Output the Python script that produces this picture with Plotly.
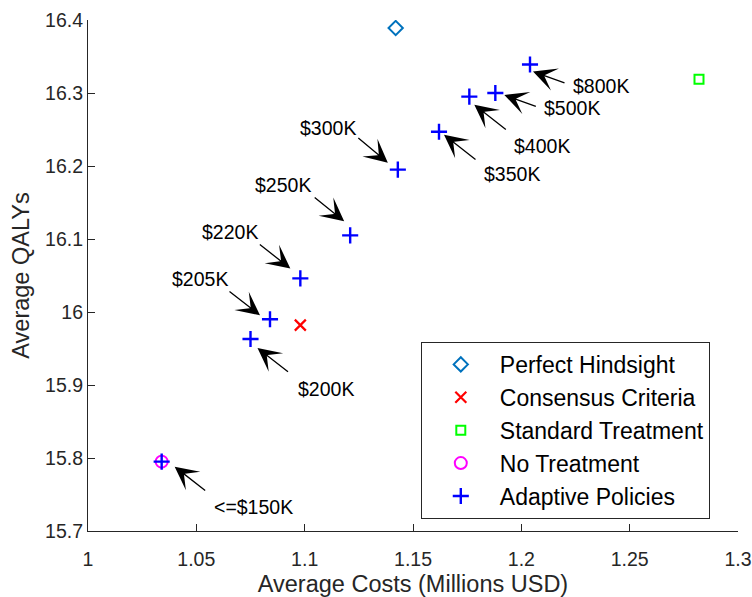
import plotly.graph_objects as go

# Average cost (millions USD) and average QALYs for each strategy
hindsight_cost = [1.142]
hindsight_qaly = [16.389]
consensus_cost = [1.098]
consensus_qaly = [15.982]
standard_cost = [1.282]
standard_qaly = [16.319]
no_treat_cost = [1.034]
no_treat_qaly = [15.795]

# Adaptive policies, one per willingness-to-pay threshold
wtp_labels = ["<=$150K", "$200K", "$205K", "$220K", "$250K",
              "$300K", "$350K", "$400K", "$500K", "$800K"]
adaptive_cost = [1.034, 1.075, 1.084, 1.098, 1.121,
                 1.143, 1.162, 1.176, 1.188, 1.204]
adaptive_qaly = [15.795, 15.963, 15.990, 16.046, 16.105,
                 16.195, 16.247, 16.295, 16.300, 16.339]

x_ticks = [1, 1.05, 1.1, 1.15, 1.2, 1.25, 1.3]
x_tick_labels = ["1", "1.05", "1.1", "1.15", "1.2", "1.25", "1.3"]
y_ticks = [15.7, 15.8, 15.9, 16.0, 16.1, 16.2, 16.3, 16.4]
y_tick_labels = ["15.7", "15.8", "15.9", "16", "16.1", "16.2", "16.3", "16.4"]

# Callout geometry in screen pixels relative to each point:
# (arrow tip dx, dy), (arrow tail dx, dy), (text centre dx, dy); +dy is downward
callouts = {
    "<=$150K": ((13, 5), (45, 30), (92, 45)),
    "$200K": ((7, 9), (39, 34), (75, 50)),
    "$205K": ((-10, -4), (-42, -29), (-70, -40)),
    "$220K": ((-10, -10), (-42, -35), (-70, -46)),
    "$250K": ((-6, -14), (-37, -39), (-67, -50)),
    "$300K": ((-10, -7), (-41, -33), (-70, -42)),
    "$350K": ((5, 3), (38, 29), (73, 42)),
    "$400K": ((5, 8), (38, 34), (73, 49)),
    "$500K": ((9, 2), (42, 14), (77, 15)),
    "$800K": ((3, 7), (36, 19), (71, 21)),
}

FONT = "Liberation Sans, Arial, Helvetica, sans-serif"
AXIS_COLOR = "#262626"

fig = go.Figure()
fig.add_trace(go.Scatter(
    x=hindsight_cost, y=hindsight_qaly, mode="markers", name="Perfect Hindsight",
    marker=dict(symbol="diamond-open", size=11, color="#0072BD",
                line=dict(width=2, color="#0072BD"))))
fig.add_trace(go.Scatter(
    x=consensus_cost, y=consensus_qaly, mode="markers", name="Consensus Criteria",
    marker=dict(symbol="x-thin-open", size=11, color="#FF0000",
                line=dict(width=2.2, color="#FF0000"))))
fig.add_trace(go.Scatter(
    x=standard_cost, y=standard_qaly, mode="markers", name="Standard Treatment",
    marker=dict(symbol="square-open", size=9, color="#00FF00",
                line=dict(width=2, color="#00FF00"))))
fig.add_trace(go.Scatter(
    x=no_treat_cost, y=no_treat_qaly, mode="markers", name="No Treatment",
    marker=dict(symbol="circle-open", size=12, color="#FF00FF",
                line=dict(width=2, color="#FF00FF"))))
fig.add_trace(go.Scatter(
    x=adaptive_cost, y=adaptive_qaly, mode="markers", name="Adaptive Policies",
    marker=dict(symbol="cross-thin-open", size=11.5, color="#0000FF",
                line=dict(width=2.4, color="#0000FF"))))

annotations = []
for label, cx, cy in zip(wtp_labels, adaptive_cost, adaptive_qaly):
    (tx, ty), (lx, ly), (sx, sy) = callouts[label]
    annotations.append(dict(
        x=cx, y=cy, xref="x", yref="y", text="", showarrow=True,
        xshift=tx, yshift=-ty, ax=lx - tx, ay=ly - ty,
        arrowhead=3, arrowsize=3.0, arrowwidth=1.3, arrowcolor="#000000"))
    annotations.append(dict(
        x=cx, y=cy, xref="x", yref="y", text=label, showarrow=False,
        xshift=sx, yshift=-sy, xanchor="center", yanchor="middle",
        font=dict(family=FONT, size=19.5, color="#000000")))

axis_common = dict(
    showline=True, linecolor=AXIS_COLOR, linewidth=1.2, mirror=False,
    ticks="inside", ticklen=7, tickwidth=1.2, tickcolor=AXIS_COLOR,
    showgrid=False, zeroline=False, automargin=False,
    tickfont=dict(family=FONT, size=19.5, color=AXIS_COLOR),
)

fig.update_layout(
    width=752, height=597,
    margin=dict(l=88, r=14, t=20, b=66),
    paper_bgcolor="white", plot_bgcolor="white",
    font=dict(family=FONT, color=AXIS_COLOR),
    xaxis=dict(range=[1, 1.3], tickvals=x_ticks, ticktext=x_tick_labels,
               ticklabelstandoff=10,
               title=dict(text="Average Costs (Millions USD)", standoff=8,
                          font=dict(family=FONT, size=23.5, color=AXIS_COLOR)),
               **axis_common),
    yaxis=dict(range=[15.7, 16.4], tickvals=y_ticks, ticktext=y_tick_labels,
               title=dict(text="Average QALYs", standoff=8,
                          font=dict(family=FONT, size=23.5, color=AXIS_COLOR)),
               **axis_common),
    legend=dict(x=0.512, y=0.370, xanchor="left", yanchor="top",
                bgcolor="white", bordercolor=AXIS_COLOR, borderwidth=1,
                itemwidth=68,
                font=dict(family=FONT, size=23, color="#000000")),
    annotations=annotations,
    showlegend=True,
)

fig.write_html("out.html")
